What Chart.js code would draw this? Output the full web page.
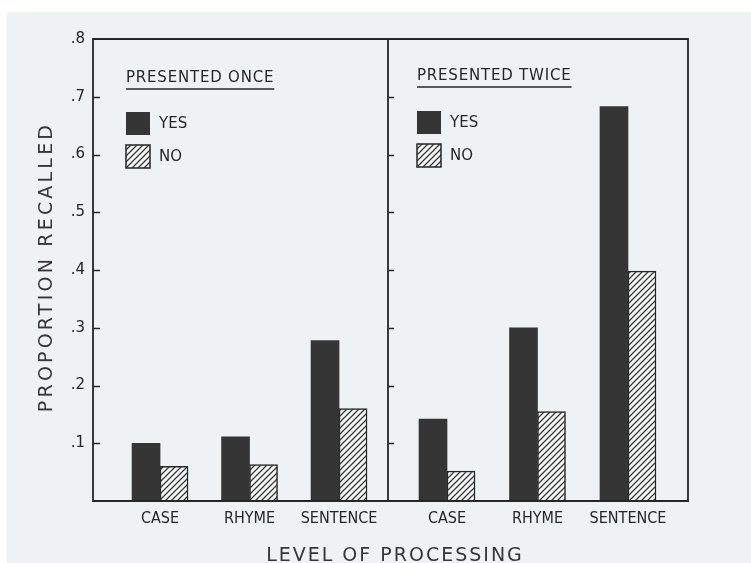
<!DOCTYPE html>
<html>
<head>
<meta charset="utf-8">
<script src="https://cdn.jsdelivr.net/npm/chart.js@4/dist/chart.umd.min.js"></script>
<style>
  html, body { margin: 0; padding: 0; background: #ffffff; }
  #wrap { position: relative; width: 751px; height: 563px; overflow: hidden; background: #ffffff; }
  #scan { position: absolute; left: 7px; top: 12px; right: 0; bottom: 0; background: #eff2f3; }
  #c1 { position: absolute; left: 0; top: 0; }
  #c2 { position: absolute; left: 386px; top: 0; }
  #ytitle { position: absolute; left: -114px; top: 255px; width: 320px; height: 24px; line-height: 24px;
            text-align: center; transform: rotate(-90deg); font: 19px "DejaVu Sans", sans-serif;
            letter-spacing: 3.2px; color: #363636; white-space: nowrap; }
  #xtitle { position: absolute; left: 195px; top: 543px; width: 400px; height: 22px; line-height: 22px;
            text-align: center; font: 19px "DejaVu Sans", sans-serif; letter-spacing: 2px; color: #363636;
            white-space: nowrap; }
</style>
</head>
<body>
<div id="wrap">
  <div id="scan"></div>
  <canvas id="c1" width="391" height="563"></canvas>
  <canvas id="c2" width="365" height="563"></canvas>
  <div id="ytitle">PROPORTION RECALLED</div>
  <div id="xtitle">LEVEL OF PROCESSING</div>
</div>
<script>
// ---- data ----
const categories = ['CASE', 'RHYME', 'SENTENCE'];
const seriesLabels = ['YES', 'NO'];
const panelTitles = ['PRESENTED ONCE', 'PRESENTED TWICE'];
const onceYes  = [0.100, 0.111, 0.278];
const onceNo   = [0.060, 0.063, 0.160];
const twiceYes = [0.142, 0.300, 0.683];
const twiceNo  = [0.052, 0.155, 0.398];
const yTickValues = [0, 0.1, 0.2, 0.3, 0.4, 0.5, 0.6, 0.7, 0.8];
const yTickLabels = ['', '.1', '.2', '.3', '.4', '.5', '.6', '.7', '.8'];

// ---- style ----
const INK = '#262626';
const DARK = '#353535';
const TICK_FONT = { family: '"DejaVu Sans Condensed", "Liberation Sans", sans-serif', size: 16 };

function hatchPattern() {
  const c = document.createElement('canvas');
  c.width = 6; c.height = 6;
  const x = c.getContext('2d');
  x.fillStyle = '#f5f6f6';
  x.fillRect(0, 0, 6, 6);
  x.strokeStyle = '#3a3a3a';
  x.lineWidth = 1.3;
  x.beginPath();
  x.moveTo(0, 6); x.lineTo(6, 0);
  x.moveTo(-1, 1); x.lineTo(1, -1);
  x.moveTo(5, 7); x.lineTo(7, 5);
  x.stroke();
  return x.createPattern(c, 'repeat');
}
const hatch = hatchPattern();

const framePlugin = {
  id: 'frame',
  afterDraw(chart, args, o) {
    const { ctx, chartArea: a } = chart;
    const y = chart.scales.y;
    ctx.save();
    ctx.strokeStyle = INK;
    ctx.lineWidth = 1.8;
    ctx.lineCap = 'square';
    ctx.beginPath();
    ctx.moveTo(a.left, a.top); ctx.lineTo(a.right, a.top);
    ctx.moveTo(a.left, a.bottom); ctx.lineTo(a.right, a.bottom);
    if (o.left) { ctx.moveTo(a.left, a.top); ctx.lineTo(a.left, a.bottom); }
    if (o.right) { ctx.moveTo(a.right, a.top); ctx.lineTo(a.right, a.bottom); }
    ctx.stroke();
    ctx.lineWidth = 1.3;
    ctx.lineCap = 'butt';
    ctx.beginPath();
    yTickValues.forEach(v => {
      if (v <= y.min || v >= y.max) return;
      const py = Math.round(y.getPixelForValue(v)) + 0.5;
      ctx.moveTo(a.left, py); ctx.lineTo(a.left + o.tickLen, py);
    });
    ctx.stroke();
    ctx.restore();
  }
};

const panelPlugin = {
  id: 'panel',
  afterDraw(chart, args, o) {
    const { ctx, chartArea: a } = chart;
    ctx.save();
    const tx = a.left + o.dx;
    ctx.fillStyle = INK;
    ctx.textAlign = 'left';
    ctx.textBaseline = 'alphabetic';
    ctx.font = '15px "DejaVu Sans", sans-serif';
    ctx.letterSpacing = '0.8px';
    ctx.fillText(o.title, tx, o.titleY);
    const w = ctx.measureText(o.title).width;
    ctx.strokeStyle = INK;
    ctx.lineWidth = 1.6;
    ctx.beginPath();
    ctx.moveTo(tx, o.titleY + 7); ctx.lineTo(tx + w, o.titleY + 7);
    ctx.stroke();
    ctx.letterSpacing = '0px';
    chart.data.datasets.forEach((ds, i) => {
      const sy = o.legendY + i * 33;
      ctx.fillStyle = ds.backgroundColor;
      ctx.fillRect(tx, sy, 24, 23);
      if (ds.borderWidth) {
        ctx.strokeStyle = ds.borderColor;
        ctx.lineWidth = 1.5;
        ctx.strokeRect(tx, sy, 24, 23);
      }
      ctx.fillStyle = INK;
      ctx.textBaseline = 'middle';
      ctx.font = '15px "DejaVu Sans", sans-serif';
      ctx.fillText(ds.label, tx + 33, sy + 12);
    });
    ctx.restore();
  }
};

function makeChart(id, yes, no, opt) {
  const toPts = arr => arr.map((v, i) => ({ x: i, y: v }));
  return new Chart(document.getElementById(id), {
    type: 'bar',
    data: {
      datasets: [
        { label: seriesLabels[0], data: toPts(yes), backgroundColor: DARK, borderColor: DARK,
          borderWidth: 0, barThickness: 28 },
        { label: seriesLabels[1], data: toPts(no), backgroundColor: hatch, borderColor: INK,
          borderWidth: 1.5, barThickness: 28 }
      ]
    },
    options: {
      responsive: false,
      animation: false,
      events: [],
      layout: { padding: opt.padding },
      plugins: {
        legend: { display: false },
        tooltip: { enabled: false },
        frame: opt.frame,
        panel: opt.panel
      },
      scales: {
        x: {
          type: 'linear',
          offset: false,
          bounds: 'data',
          min: opt.xmin, max: opt.xmax,
          grid: { display: false, drawTicks: false, offset: false },
          border: { display: false },
          afterBuildTicks: s => { s.ticks = categories.map((c, i) => ({ value: i })); },
          afterFit: s => { s.height = 62; },
          ticks: {
            autoSkip: false, maxRotation: 0, minRotation: 0, padding: 8, includeBounds: false,
            color: INK, font: TICK_FONT,
            callback: v => categories[v]
          }
        },
        y: {
          display: opt.showY,
          min: 0, max: 0.8,
          grid: { display: false, drawTicks: false },
          border: { display: false },
          afterBuildTicks: s => { s.ticks = yTickValues.map(v => ({ value: v })); },
          afterFit: s => { s.width = opt.showY ? 93 : 0; },
          ticks: {
            padding: 8, color: INK,
            font: { family: '"DejaVu Sans", sans-serif', size: 15 },
            callback: (v, i) => yTickLabels[i]
          }
        }
      }
    },
    plugins: [framePlugin, panelPlugin]
  });
}

makeChart('c1', onceYes, onceNo, {
  padding: { left: 0, right: 3, top: 39, bottom: 0 },
  xmin: -0.749, xmax: 2.547, showY: true,
  frame: { left: true, right: true, tickLen: 7 },
  panel: { title: panelTitles[0], dx: 33, titleY: 82, legendY: 112 }
});
makeChart('c2', twiceYes, twiceNo, {
  padding: { left: 2, right: 63, top: 39, bottom: 0 },
  xmin: -0.652, xmax: 2.663, showY: false,
  frame: { left: false, right: true, tickLen: 6 },
  panel: { title: panelTitles[1], dx: 29, titleY: 80, legendY: 111 }
});
</script>
</body>
</html>
